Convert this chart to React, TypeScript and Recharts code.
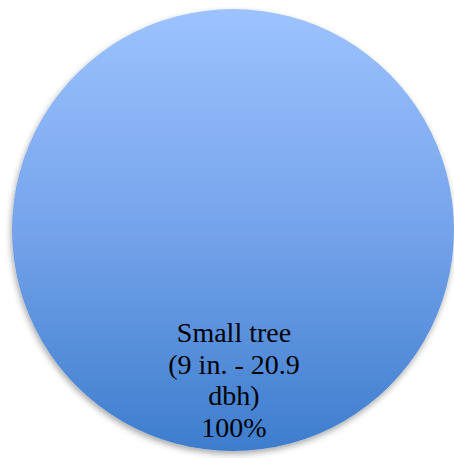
import React from 'react';
import { PieChart, Pie, Cell } from 'recharts';

const categories = ['Small tree\n(9 in. - 20.9\ndbh)'];
const values = [100];
const percentLabels = ['100%'];

const data = categories.map((name, i) => ({ name, value: values[i], pct: percentLabels[i] }));

const renderLabel = (props: any) => {
  const { cx, cy, index } = props;
  const lines = [...data[index].name.split('\n'), data[index].pct];
  return (
    <text
      x={cx + 1}
      y={cy + 112}
      textAnchor="middle"
      fill="#000"
      fontFamily="'Liberation Serif', 'Times New Roman', serif"
      fontSize={28}
    >
      {lines.map((l, i) => (
        <tspan key={i} x={cx + 1} dy={i === 0 ? 0 : 31.5}>
          {l}
        </tspan>
      ))}
    </text>
  );
};

export default function App() {
  return (
    <div style={{ position: 'absolute', left: 0, top: 0, width: 454, height: 458, background: '#fff' }}>
      <PieChart width={454} height={458} margin={{ top: 0, right: 0, bottom: 0, left: 0 }}>
        <defs>
          <linearGradient id="pieGrad" x1="0" y1="0" x2="0" y2="1">
            <stop offset="0%" stopColor="#9DC3FF" />
            <stop offset="50%" stopColor="#75A3EB" />
            <stop offset="100%" stopColor="#3D7DCD" />
          </linearGradient>
          <filter id="pieShadow" x="-10%" y="-10%" width="120%" height="120%">
            <feDropShadow dx="-1" dy="3" stdDeviation="3" floodColor="#000" floodOpacity="0.35" />
          </filter>
        </defs>
        <Pie
          data={data}
          dataKey="value"
          nameKey="name"
          cx={233}
          cy={230}
          outerRadius={221}
          startAngle={90}
          endAngle={-270}
          stroke="none"
          label={renderLabel}
          labelLine={false}
          isAnimationActive={false}
          style={{ filter: 'url(#pieShadow)' }}
        >
          {data.map((d, i) => (
            <Cell key={i} fill="url(#pieGrad)" />
          ))}
        </Pie>
      </PieChart>
    </div>
  );
}
